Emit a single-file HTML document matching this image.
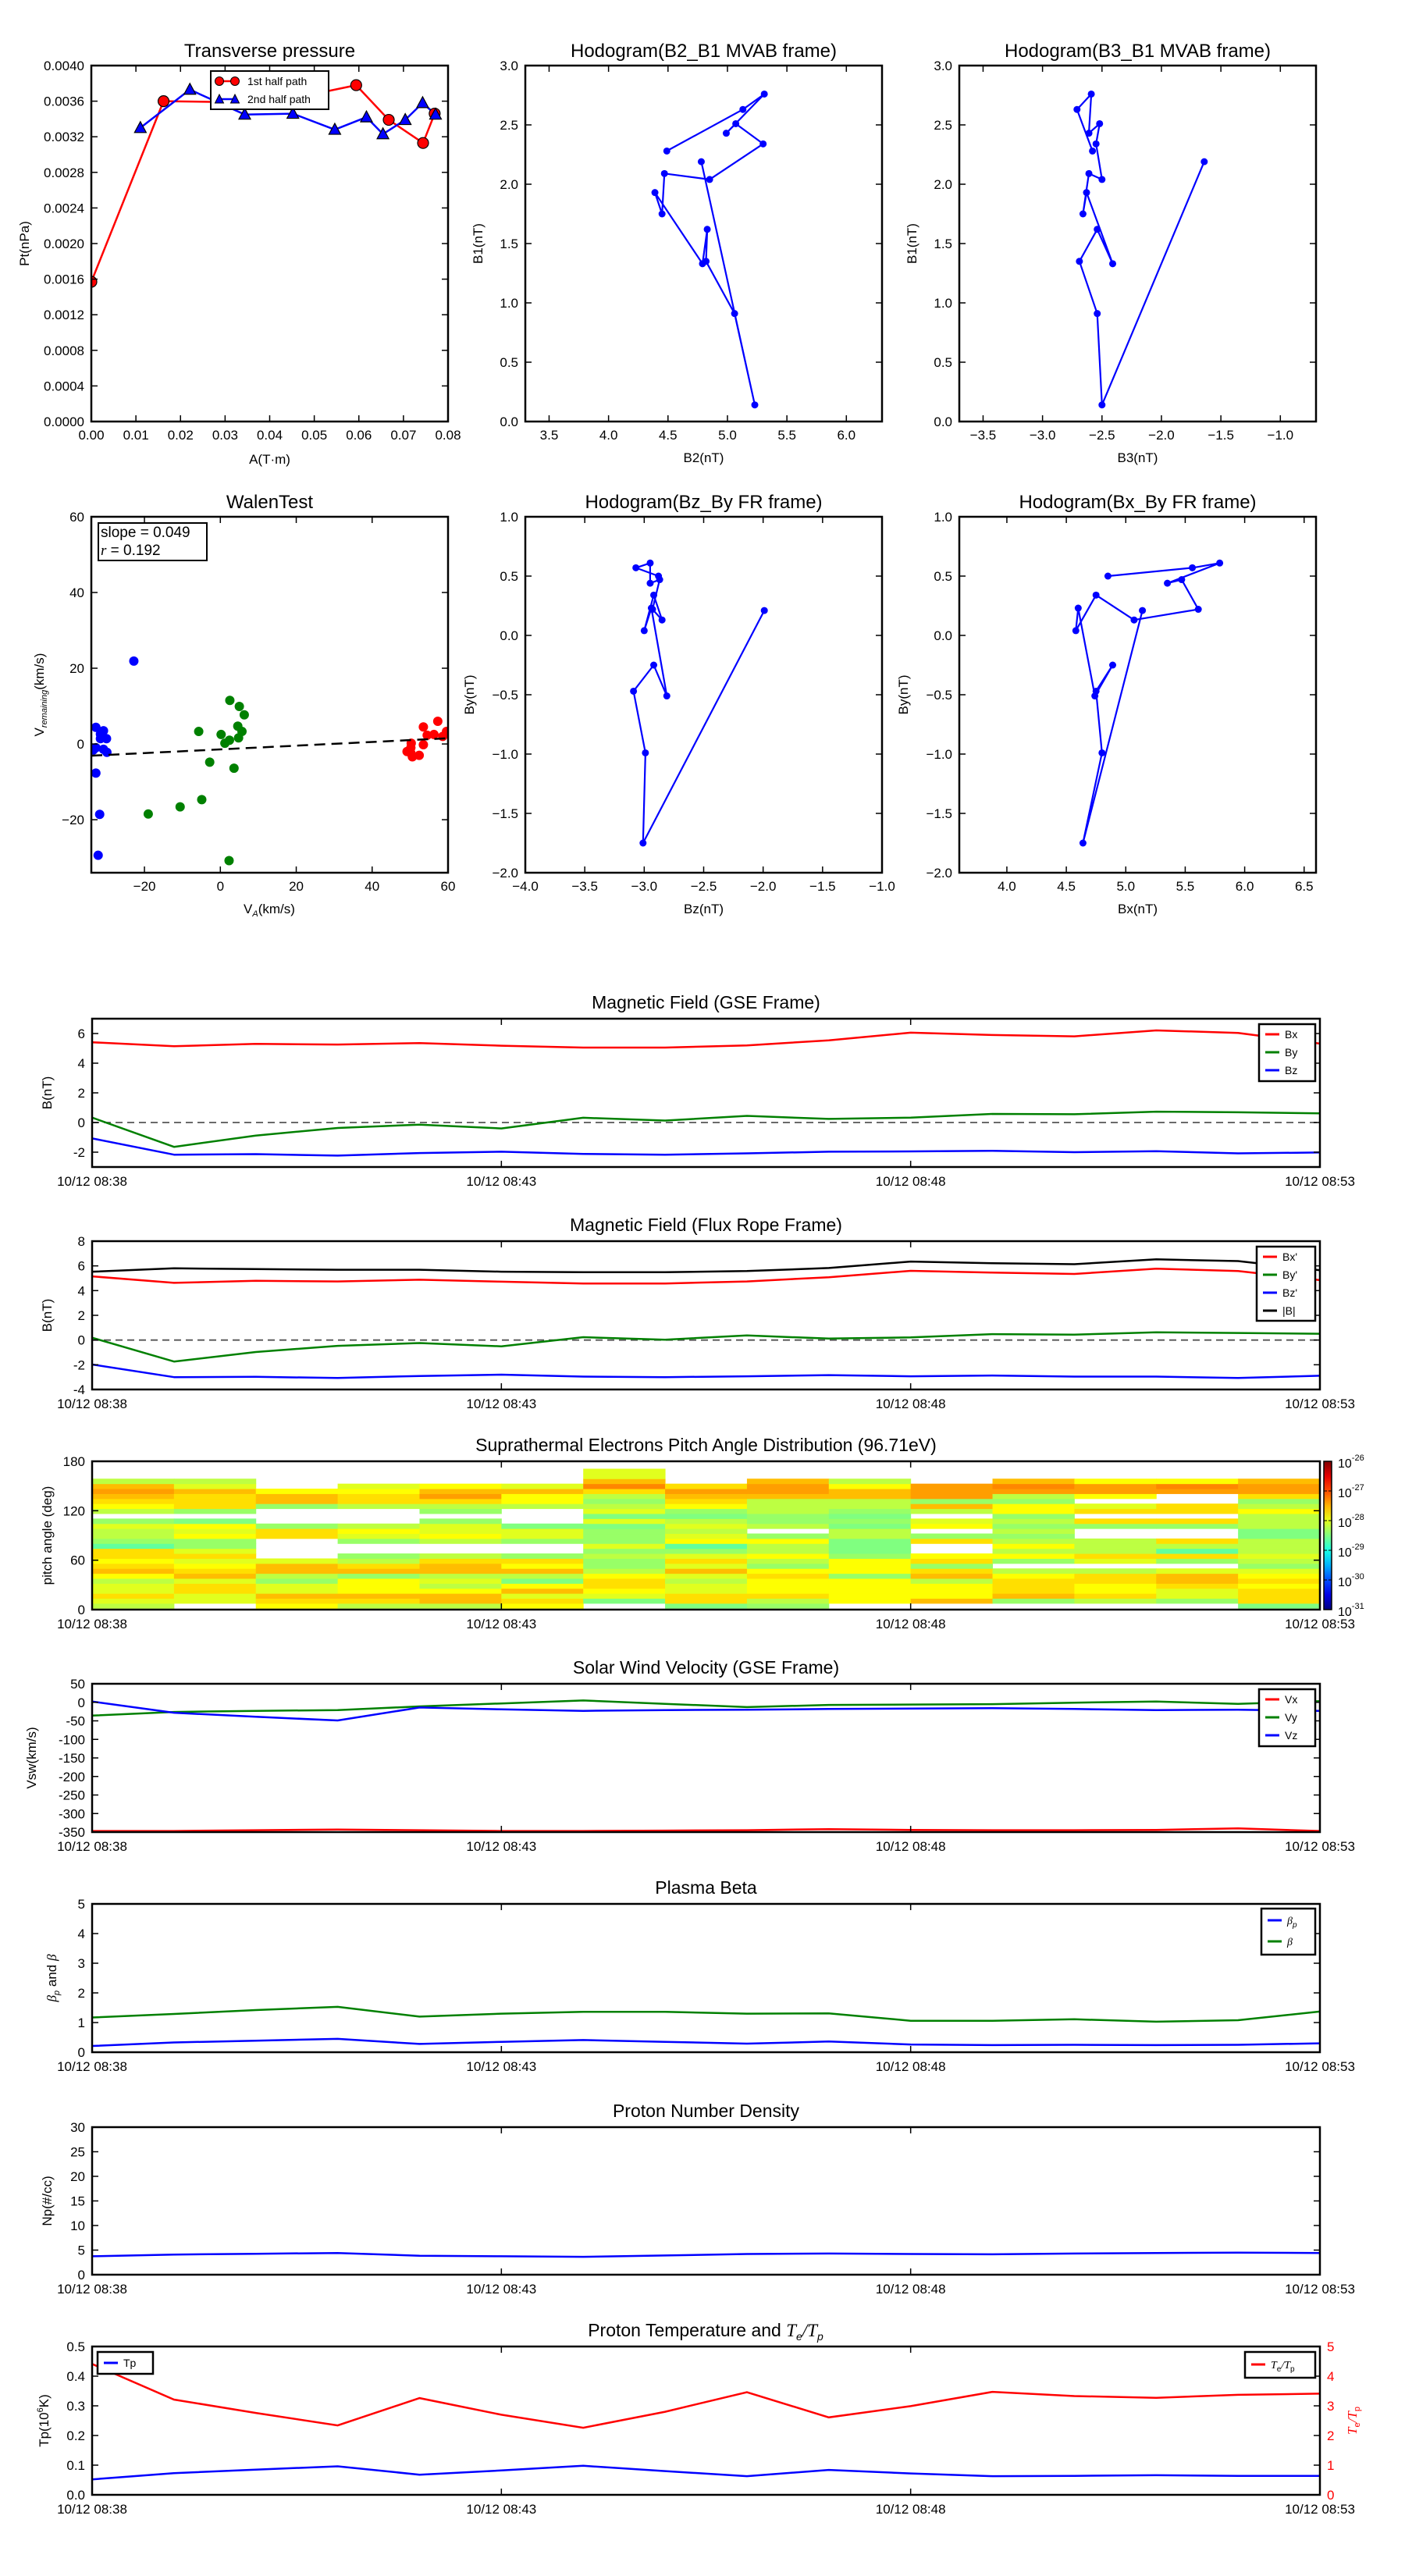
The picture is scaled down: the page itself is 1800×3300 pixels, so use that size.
<!DOCTYPE html>
<html><head><meta charset="utf-8"><title>Flux rope analysis</title>
<style>
html,body{margin:0;padding:0;background:#fff;}
svg{display:block;font-family:"Liberation Sans","DejaVu Sans",sans-serif;}
</style></head>
<body>
<svg id="figure" xmlns="http://www.w3.org/2000/svg" width="1800" height="3300" viewBox="0 0 1800 3300"><rect width="1800" height="3300" fill="#fff"/></svg>
<script>
// ---------- DATA ----------
const ptFirstA=[0.0,0.0162,0.030,0.047,0.0594,0.0667,0.0744,0.0770];
const ptFirstP=[0.00157,0.00360,0.00359,0.00365,0.00378,0.00339,0.00313,0.00346];
const ptSecondA=[0.0110,0.0221,0.0344,0.0452,0.0546,0.0617,0.0654,0.0704,0.0743,0.0772];
const ptSecondP=[0.00330,0.00373,0.00345,0.00346,0.00328,0.00342,0.00323,0.00339,0.00358,0.00345];
const mvB1=[2.28,2.63,2.76,2.43,2.51,2.34,2.04,2.09,1.75,1.93,1.33,1.62,1.35,0.91,0.14,2.19];
const mvB2=[4.49,5.13,5.31,4.99,5.07,5.30,4.85,4.47,4.45,4.39,4.79,4.83,4.82,5.06,5.23,4.78];
const mvB3=[-2.58,-2.71,-2.59,-2.61,-2.52,-2.55,-2.50,-2.61,-2.66,-2.63,-2.41,-2.54,-2.69,-2.54,-2.50,-1.64];
const frBy=[0.50,0.57,0.61,0.44,0.47,0.22,0.13,0.34,0.04,0.23,-0.51,-0.25,-0.47,-0.99,-1.75,0.21];
const frBz=[-2.88,-3.07,-2.95,-2.95,-2.87,-2.93,-2.85,-2.92,-3.00,-2.94,-2.81,-2.92,-3.09,-2.99,-3.01,-1.99];
const frBx=[4.85,5.56,5.79,5.35,5.47,5.61,5.07,4.75,4.58,4.60,4.74,4.89,4.75,4.80,4.64,5.14];
const walenBlueX=[-32.8,-30.8,-31.6,-30.0,-32.8,-33.5,-30.8,-29.9,-32.8,-31.8,-32.2,-22.8,-31.6];
const walenBlueY=[4.4,3.5,1.4,1.4,-1.0,-1.6,-1.4,-2.2,-7.7,-18.6,-29.4,21.9,2.6];
const walenGreenX=[2.5,5.0,6.3,-5.7,0.2,4.6,5.7,4.8,2.4,1.2,-2.8,3.6,-4.9,-10.6,-19.0,2.3];
const walenGreenY=[11.5,9.9,7.7,3.3,2.5,4.7,3.3,1.6,1.0,0.2,-4.8,-6.4,-14.7,-16.6,-18.5,-30.8];
const walenRedX=[49.2,50.2,50.3,50.6,52.4,53.5,53.5,54.5,56.3,57.3,58.6,59.6,50.2];
const walenRedY=[-2.0,-1.0,0.2,-3.4,-3.0,4.5,-0.2,2.3,2.5,6.0,2.0,3.3,-2.4];
const walenSlope=0.049;
const walenIntercept=-1.43;
const timeMinutes=[0,1,2,3,4,5,6,7,8,9,10,11,12,13,14,15];
const timeTickValues=[0,5,10,15];
const timeTickLabels=['10/12 08:38','10/12 08:43','10/12 08:48','10/12 08:53'];
const gseBx=[5.41,5.14,5.30,5.26,5.35,5.18,5.05,5.05,5.20,5.54,6.06,5.90,5.81,6.21,6.04,5.32];
const gseBy=[0.33,-1.64,-0.88,-0.37,-0.14,-0.40,0.32,0.13,0.45,0.24,0.33,0.58,0.56,0.73,0.69,0.62];
const gseBz=[-1.07,-2.17,-2.13,-2.23,-2.06,-1.97,-2.12,-2.17,-2.08,-1.97,-1.95,-1.91,-2.00,-1.93,-2.08,-2.02];
const ropeBx=[5.15,4.63,4.79,4.74,4.88,4.72,4.58,4.58,4.74,5.08,5.60,5.46,5.35,5.78,5.58,4.85];
const ropeBy=[0.19,-1.74,-0.97,-0.47,-0.24,-0.51,0.23,0.03,0.37,0.12,0.21,0.48,0.44,0.62,0.57,0.51];
const ropeBz=[-1.98,-3.00,-2.98,-3.07,-2.91,-2.80,-2.96,-3.00,-2.93,-2.84,-2.93,-2.87,-2.96,-2.96,-3.07,-2.89];
const ropeBt=[5.53,5.80,5.74,5.69,5.69,5.53,5.49,5.49,5.58,5.83,6.35,6.21,6.14,6.53,6.39,5.65];
const padColumns=[
"LYDYYLZODZDDTALLYAWLZDOROLWW","WYYDDYODZYDYAAZYZGWADDDOYLWW","ZDOYYALOOYWWWWDDAWWWAOOZWWWW",
"LDOZZZAODLAWWAYZLWWWLDDZYWWW","LOOZLYLOODLWWLZYYAWALDROZWWW","ZDYOZGLOZDAWWAYYGWWWLZZOYWWW",
"WGYZDDZLAALAYAAAGYGYLALDSOYY","GDDYYLYOYDYATZYLYLGAZDORDWWW","ALDZZZDZALZLLZAWLAALLLORROWW",
"WZZZZZAZZZAGGGLLGAGALLOOZLWW","WOZZZLODADZWWDAWZYWLOARRRWWW","WAODDDZLWAZLZLALALAZZALRSOWW",
"WLDZZDDLWYDLLLWWADWDYWZRRZWW","WAYYDOOYWADTLDWWADWDDWWRSZWW","GDDDZDZYALYLLLGGLLLZLADRROWW"];
const padCodeValues={T:-28.65,G:-28.5,A:-28.38,L:-28.2,Y:-28.02,Z:-27.88,D:-27.72,O:-27.55,R:-27.4,S:-27.28};
const padBinStart=1.6;
const padBinWidth=6.05;
const vswVx=[-347,-347,-345,-343,-345,-347,-347,-346,-345,-342,-344,-345,-345,-344,-340,-347];
const vswVy=[-36,-26,-23,-21,-11,-3,5,-4,-13,-7,-6,-5,-1,2,-4,3];
const vswVz=[2,-28,-39,-49,-14,-19,-23,-21,-20,-18,-17,-16,-18,-21,-20,-23];
const betaP=[0.21,0.33,0.39,0.45,0.28,0.35,0.41,0.35,0.29,0.36,0.26,0.24,0.25,0.24,0.25,0.30];
const betaTotal=[1.17,1.29,1.42,1.53,1.20,1.30,1.36,1.36,1.30,1.31,1.06,1.06,1.11,1.03,1.08,1.37];
const protonDensity=[3.74,4.1,4.25,4.42,3.85,3.74,3.63,3.9,4.2,4.3,4.2,4.14,4.3,4.42,4.48,4.42];
const protonTemp=[0.052,0.073,0.085,0.096,0.068,0.082,0.098,0.080,0.063,0.084,0.072,0.063,0.064,0.066,0.064,0.064];
const tempRatio=[4.41,3.21,2.76,2.34,3.26,2.70,2.26,2.80,3.46,2.61,2.99,3.47,3.33,3.27,3.37,3.41];

// ---------- HELPERS ----------
const NS='http://www.w3.org/2000/svg';
const svg=document.getElementById('figure');
let clipCount=0;
function mk(tag,attrs,parent){const e=document.createElementNS(NS,tag);for(const k in attrs)e.setAttribute(k,attrs[k]);(parent||svg).appendChild(e);return e;}
function txt(parent,x,y,s,size,anchor,extra){const t=mk('text',Object.assign({x:x,y:y,'font-size':size,'text-anchor':anchor||'middle',fill:'#000'},extra||{}),parent);t.textContent=s;return t;}
function fmtMinus(v,d){const s=v.toFixed(d);return s.replace('-','\u2212');}

function makeAxes(p){
  const g=mk('g',{});
  
  
  const sx=v=>p.x0+(v-p.xmin)/(p.xmax-p.xmin)*(p.x1-p.x0);
  const sy=v=>p.y1-(v-p.ymin)/(p.ymax-p.ymin)*(p.y1-p.y0);
  const id='clip'+(clipCount++);
  const cp=mk('clipPath',{id:id},g);
  mk('rect',{x:p.x0,y:p.y0,width:p.x1-p.x0,height:p.y1-p.y0},cp);
  const plot=mk('g',{'clip-path':'url(#'+id+')'},g);
  
  
  return {g,plot,sx,sy,p};
}
function drawFrame(A,o){
  const p=A.p,g=A.g;
  const fs=o.tickSize||17;
  (o.xticks||[]).forEach((v,i)=>{
    const x=A.sx(v);
    const t1=mk('line',{x1:x,y1:p.y1,x2:x,y2:p.y1-8,stroke:'#000','stroke-width':1.5},g);
    
    
    mk('line',{x1:x,y1:p.y0,x2:x,y2:p.y0+8,stroke:'#000','stroke-width':1.5},g);
    const lb=txt(g,x,p.y1+(o.xlabOff||23),o.xlabels[i],fs,'middle');
    
    
  });
  (o.yticks||[]).forEach((v,i)=>{
    const y=A.sy(v);
    const t1=mk('line',{x1:p.x0,y1:y,x2:p.x0+8,y2:y,stroke:'#000','stroke-width':1.5},g);
    
    
    if(!o.noRightTicks) mk('line',{x1:p.x1,y1:y,x2:p.x1-8,y2:y,stroke:'#000','stroke-width':1.5},g);
    const lb=txt(g,p.x0-9,y+6,o.ylabels[i],fs,'end');
    
    
  });
  const r=mk('rect',{x:p.x0,y:p.y0,width:p.x1-p.x0,height:p.y1-p.y0,fill:'none',stroke:'#000','stroke-width':2.5},g);
  
  
  if(o.title){
    const t=txt(g,(p.x0+p.x1)/2,p.y0-(o.titleOff||11),o.title,o.titleSize||24,'middle');
    
    
  }
  if(o.xlabel){
    const t=txt(g,(p.x0+p.x1)/2,p.y1+(o.xlabelOff||54),o.xlabel,17,'middle');
    
    
  }
  if(o.ylabel){
    const yc=(p.y0+p.y1)/2;
    const t=txt(g,o.ylabelX,yc,o.ylabel,17,'middle',{transform:'rotate(-90 '+o.ylabelX+' '+yc+')'});
    
    
  }
}
function polyline(A,xs,ys,color,w,name){
  const pts=xs.map((x,i)=>A.sx(x).toFixed(1)+','+A.sy(ys[i]).toFixed(1)).join(' ');
  const l=mk('polyline',{points:pts,fill:'none',stroke:color,'stroke-width':w||2.5,'stroke-linejoin':'round'},A.plot);
  
  
  return l;
}
function dots(A,xs,ys,color,r,name,stroke){
  xs.forEach((x,i)=>{
    const c=mk('circle',{cx:A.sx(x),cy:A.sy(ys[i]),r:r,fill:color,stroke:stroke||'none','stroke-width':1.2},A.plot);
    
    
  });
}
function range(a,b,s){const r=[];for(let v=a;v<=b+1e-9;v+=s)r.push(+v.toFixed(6));return r;}
function legendBox(g,x,y,w,h,entries,fs,name){
  const lg=mk('g',{},g);
  
  
  mk('rect',{x:x,y:y,width:w,height:h,fill:'#fff',stroke:'#000','stroke-width':2.5},lg);
  entries.forEach(e=>{
    const it=mk('g',{},lg);
    
    
    mk('line',{x1:x+8,y1:e.y,x2:x+26,y2:e.y,stroke:e.color,'stroke-width':3},it);
    const t=txt(it,x+33,e.y+5,e.label,fs,'start',e.attrs||{});
    if(e.html)t.innerHTML=e.html;
  });
  return lg;
}

// ---------- TRANSVERSE PRESSURE ----------
(function(){
  const A=makeAxes({name:'transverse-pressure-chart',x0:117,x1:574,y0:84,y1:540,xmin:0,xmax:0.08,ymin:0,ymax:0.004});
  polyline(A,ptFirstA,ptFirstP,'#ff0000',2.5,'first-half-path-line');
  polyline(A,ptSecondA,ptSecondP,'#0000ff',2.5,'second-half-path-line');
  ptFirstA.forEach((a,i)=>{
    if(i===2||i===3)return;
    const c=mk('circle',{cx:A.sx(a),cy:A.sy(ptFirstP[i]),r:7,fill:'#ff0000',stroke:'#000','stroke-width':1.2},A.plot);
    
    
  });
  ptSecondA.forEach((a,i)=>{
    const x=A.sx(a),y=A.sy(ptSecondP[i]);
    const t=mk('polygon',{points:(x)+','+(y-8)+' '+(x-7.5)+','+(y+6)+' '+(x+7.5)+','+(y+6),fill:'#0000ff',stroke:'#000','stroke-width':1.2},A.plot);
    
    
  });
  const xt=range(0,0.08,0.01), yt=range(0,0.004,0.0004);
  drawFrame(A,{xticks:xt,xlabels:xt.map(v=>v.toFixed(2)),yticks:yt,ylabels:yt.map(v=>v.toFixed(4)),title:'Transverse pressure',xlabel:'A(T\u00b7m)',xlabelOff:54,ylabel:'Pt(nPa)',ylabelX:37});
  const lg=mk('g',{},A.g);
  
  
  mk('rect',{x:270,y:91,width:151,height:49,fill:'#fff',stroke:'#000','stroke-width':2},lg);
  const e1=mk('g',{},lg);
  
  
  mk('line',{x1:281,y1:104,x2:301,y2:104,stroke:'#ff0000','stroke-width':2.5},e1);
  mk('circle',{cx:281,cy:104,r:5.5,fill:'#ff0000',stroke:'#000','stroke-width':1},e1);
  mk('circle',{cx:301,cy:104,r:5.5,fill:'#ff0000',stroke:'#000','stroke-width':1},e1);
  txt(e1,317,109,'1st half path',14,'start');
  const e2=mk('g',{},lg);
  
  
  mk('line',{x1:281,y1:127,x2:301,y2:127,stroke:'#0000ff','stroke-width':2.5},e2);
  mk('polygon',{points:'281,121 275.5,132 286.5,132',fill:'#0000ff',stroke:'#000','stroke-width':1},e2);
  mk('polygon',{points:'301,121 295.5,132 306.5,132',fill:'#0000ff',stroke:'#000','stroke-width':1},e2);
  txt(e2,317,132,'2nd half path',14,'start');
})();

// ---------- HODOGRAMS ----------
function hodogram(name,x0,y0,xmin,xmax,ymin,ymax,xs,ys,xt,yt,title,xl,yl,d){
  const A=makeAxes({name:name,x0:x0,x1:x0+457,y0:y0,y1:y0+456,xmin:xmin,xmax:xmax,ymin:ymin,ymax:ymax});
  polyline(A,xs,ys,'#0000ff',2.2,'hodogram-path');
  dots(A,xs,ys,'#0000ff',4.5,'hodogram-point');
  drawFrame(A,{xticks:xt,xlabels:xt.map(v=>fmtMinus(v,1)),yticks:yt,ylabels:yt.map(v=>fmtMinus(v,1)),title:title,xlabel:xl,xlabelOff:52,ylabel:yl,ylabelX:x0-d});
}
hodogram('hodogram-b2-b1',673,84,3.3,6.3,0,3,mvB2,mvB1,range(3.5,6.0,0.5),range(0,3,0.5),'Hodogram(B2_B1 MVAB frame)','B2(nT)','B1(nT)',55);
hodogram('hodogram-b3-b1',1229,84,-3.7,-0.7,0,3,mvB3,mvB1,range(-3.5,-1.0,0.5),range(0,3,0.5),'Hodogram(B3_B1 MVAB frame)','B3(nT)','B1(nT)',55);
hodogram('hodogram-bz-by',673,662,-4,-1,-2,1,frBz,frBy,range(-4,-1,0.5),range(-2,1,0.5),'Hodogram(Bz_By FR frame)','Bz(nT)','By(nT)',66);
hodogram('hodogram-bx-by',1229,662,3.6,6.6,-2,1,frBx,frBy,range(4.0,6.5,0.5),range(-2,1,0.5),'Hodogram(Bx_By FR frame)','Bx(nT)','By(nT)',66);

// ---------- WALEN TEST ----------
(function(){
  const A=makeAxes({name:'walen-test-chart',x0:117,x1:574,y0:662,y1:1118,xmin:-34,xmax:60,ymin:-34,ymax:60});
  dots(A,walenBlueX,walenBlueY,'#0000ff',6,'walen-point-blue');
  dots(A,walenGreenX,walenGreenY,'#008000',6,'walen-point-green');
  dots(A,walenRedX,walenRedY,'#ff0000',6,'walen-point-red');
  const fl=mk('line',{x1:A.sx(-34),y1:A.sy(walenIntercept+walenSlope*-34),x2:A.sx(60),y2:A.sy(walenIntercept+walenSlope*60),stroke:'#000','stroke-width':2.5,'stroke-dasharray':'14,8'},A.plot);
  
  
  const t=range(-20,60,20);
  drawFrame(A,{xticks:t,xlabels:t.map(v=>fmtMinus(v,0)),yticks:t,ylabels:t.map(v=>fmtMinus(v,0)),title:'WalenTest',xlabel:'',ylabel:''});
  const xl=txt(A.g,345,1170,'',17,'middle');
  xl.innerHTML='V<tspan font-size="11" font-style="italic" dy="4">A</tspan><tspan dy="-4">(km/s)</tspan>';
  
  
  const yl=txt(A.g,56,890,'',17,'middle',{transform:'rotate(-90 56 890)'});
  yl.innerHTML='V<tspan font-size="11" font-style="italic" dy="4">remaining</tspan><tspan dy="-4">(km/s)</tspan>';
  
  
  const box=mk('g',{},A.g);
  
  
  mk('rect',{x:126,y:670,width:139,height:48,fill:'#fff',stroke:'#000','stroke-width':2},box);
  txt(box,129,688,'slope = 0.049',19,'start');
  const r=txt(box,129,711,'',19,'start');
  r.innerHTML='<tspan font-style="italic" font-family="Liberation Serif, serif">r</tspan> = 0.192';
})();

// ---------- TIME PANELS ----------
const TX0=118,TX1=1691;
function timePanel(name,y0,y1,ymin,ymax,yt,ylabs,title,ylabel){
  const A=makeAxes({name:name,x0:TX0,x1:TX1,y0:y0,y1:y1,xmin:0,xmax:15,ymin:ymin,ymax:ymax});
  A.frameOpts={xticks:timeTickValues,xlabels:timeTickLabels,yticks:yt,ylabels:ylabs,title:title,titleSize:23,titleOff:13,xlabOff:24,ylabel:ylabel,ylabelX:66,tickSize:17};
  return A;
}
function zeroLine(A){
  const l=mk('line',{x1:TX0,y1:A.sy(0),x2:TX1,y2:A.sy(0),stroke:'#555','stroke-width':1.8,'stroke-dasharray':'9,6'},A.plot);
  
  
}

// GSE magnetic field
(function(){
  const yt=[-2,0,2,4,6];
  const A=timePanel('magnetic-field-gse-chart',1305,1495,-3,7,yt,yt.map(String),'Magnetic Field (GSE Frame)','B(nT)');
  zeroLine(A);
  polyline(A,timeMinutes,gseBx,'#ff0000',2.5,'bx-line');
  polyline(A,timeMinutes,gseBy,'#008000',2.5,'by-line');
  polyline(A,timeMinutes,gseBz,'#0000ff',2.5,'bz-line');
  drawFrame(A,A.frameOpts);
  legendBox(A.g,1613,1312,72,73,[{y:1325,color:'#ff0000',label:'Bx'},{y:1348,color:'#008000',label:'By'},{y:1371,color:'#0000ff',label:'Bz'}],14,'gse-legend');
})();
// Flux rope magnetic field
(function(){
  const yt=[-4,-2,0,2,4,6,8];
  const A=timePanel('magnetic-field-flux-rope-chart',1590,1780,-4,8,yt,yt.map(String),'Magnetic Field (Flux Rope Frame)','B(nT)');
  zeroLine(A);
  polyline(A,timeMinutes,ropeBx,'#ff0000',2.5,'bx-prime-line');
  polyline(A,timeMinutes,ropeBy,'#008000',2.5,'by-prime-line');
  polyline(A,timeMinutes,ropeBz,'#0000ff',2.5,'bz-prime-line');
  polyline(A,timeMinutes,ropeBt,'#000000',2.5,'b-total-line');
  drawFrame(A,A.frameOpts);
  legendBox(A.g,1610,1597,75,95,[{y:1610,color:'#ff0000',label:"Bx'"},{y:1633,color:'#008000',label:"By'"},{y:1656,color:'#0000ff',label:"Bz'"},{y:1679,color:'#000',label:'|B|'}],14,'flux-rope-legend');
})();
// Pitch angle distribution
function jet(t){
  t=Math.max(0,Math.min(1,t));
  const c=v=>Math.round(255*Math.max(0,Math.min(1,v)));
  return 'rgb('+c(1.5-Math.abs(4*t-3))+','+c(1.5-Math.abs(4*t-2))+','+c(1.5-Math.abs(4*t-1))+')';
}
(function(){
  const yt=[0,60,120,180];
  const A=timePanel('pitch-angle-heatmap',1872,2062,0,180,yt,yt.map(String),'Suprathermal Electrons Pitch Angle Distribution (96.71eV)','pitch angle (deg)');
  padColumns.forEach((col,i)=>{
    for(let k=0;k<col.length;k++){
      const ch=col[k];
      if(!(ch in padCodeValues))continue;
      const v=padCodeValues[ch];
      const lo=padBinStart+k*padBinWidth, hi=lo+padBinWidth;
      const r=mk('rect',{x:A.sx(i),y:A.sy(hi),width:A.sx(i+1)-A.sx(i)+0.5,height:A.sy(lo)-A.sy(hi)+0.5,fill:jet((v+31)/5)},A.plot);
      
      
    }
  });
  drawFrame(A,A.frameOpts);
  const cb=mk('g',{});
  
  
  const defs=mk('defs',{},cb);
  const gr=mk('linearGradient',{id:'jetgrad',x1:0,y1:1,x2:0,y2:0},defs);
  for(let s=0;s<=10;s++)mk('stop',{offset:(s/10),'stop-color':jet(s/10)},gr);
  mk('rect',{x:1696,y:1872,width:10,height:190,fill:'url(#jetgrad)',stroke:'#000','stroke-width':1.5},cb);
  [-26,-27,-28,-29,-30,-31].forEach(e=>{
    const y=1872+(-26-e)*38;
    mk('line',{x1:1696,y1:y,x2:1700,y2:y,stroke:'#000','stroke-width':1},cb);
    mk('line',{x1:1702,y1:y,x2:1706,y2:y,stroke:'#000','stroke-width':1},cb);
    const t=txt(cb,1714,y+8,'',16,'start');
    t.innerHTML='10<tspan font-size="11" dy="-9">'+e+'</tspan>';
    
    
  });
})();
// Solar wind velocity
(function(){
  const yt=range(-350,50,50);
  const A=timePanel('solar-wind-velocity-chart',2157,2347,-350,50,yt,yt.map(v=>String(v)),'Solar Wind Velocity (GSE Frame)','Vsw(km/s)');
  A.frameOpts.ylabelX=46;
  polyline(A,timeMinutes,vswVx,'#ff0000',2.5,'vx-line');
  polyline(A,timeMinutes,vswVy,'#008000',2.5,'vy-line');
  polyline(A,timeMinutes,vswVz,'#0000ff',2.5,'vz-line');
  drawFrame(A,A.frameOpts);
  legendBox(A.g,1613,2164,72,73,[{y:2177,color:'#ff0000',label:'Vx'},{y:2200,color:'#008000',label:'Vy'},{y:2223,color:'#0000ff',label:'Vz'}],14,'velocity-legend');
})();
// Plasma beta
(function(){
  const yt=range(0,5,1);
  const A=timePanel('plasma-beta-chart',2439,2629,0,5,yt,yt.map(String),'Plasma Beta','');
  polyline(A,timeMinutes,betaP,'#0000ff',2.5,'beta-proton-line');
  polyline(A,timeMinutes,betaTotal,'#008000',2.5,'beta-total-line');
  drawFrame(A,A.frameOpts);
  const yl=txt(A.g,72,2534,'',17,'middle',{transform:'rotate(-90 72 2534)'});
  yl.innerHTML='<tspan font-style="italic" font-family="Liberation Serif, serif">\u03b2</tspan><tspan font-size="11" font-style="italic" dy="4">p</tspan><tspan dy="-4"> and </tspan><tspan font-style="italic" font-family="Liberation Serif, serif">\u03b2</tspan>';
  
  
  const lg=legendBox(A.g,1616,2445,69,59,[{y:2460,color:'#0000ff',label:''},{y:2487,color:'#008000',label:''}],14,'beta-legend');
  const ts=lg.querySelectorAll('text');
  ts[0].innerHTML='<tspan font-style="italic" font-family="Liberation Serif, serif">\u03b2</tspan><tspan font-size="10" font-style="italic" dy="4">p</tspan>';
  ts[1].innerHTML='<tspan font-style="italic" font-family="Liberation Serif, serif">\u03b2</tspan>';
})();
// Proton density
(function(){
  const yt=range(0,30,5);
  const A=timePanel('proton-density-chart',2725,2914,0,30,yt,yt.map(String),'Proton Number Density','Np(#/cc)');
  polyline(A,timeMinutes,protonDensity,'#0000ff',2.5,'proton-density-line');
  drawFrame(A,A.frameOpts);
})();
// Proton temperature
(function(){
  const yt=range(0,0.5,0.1);
  const A=timePanel('proton-temperature-chart',3006,3196,0,0.5,yt,yt.map(v=>v.toFixed(1)),'','');
  A.frameOpts.noRightTicks=true;
  const sy2=v=>3196-v/5*190;
  polyline(A,timeMinutes,protonTemp,'#0000ff',2.5,'proton-temperature-line');
  const pts=timeMinutes.map((m,i)=>A.sx(m).toFixed(1)+','+sy2(tempRatio[i]).toFixed(1)).join(' ');
  const rl=mk('polyline',{points:pts,fill:'none',stroke:'#ff0000','stroke-width':2.5},A.plot);
  
  
  drawFrame(A,A.frameOpts);
  [0,1,2,3,4,5].forEach(v=>{
    const y=sy2(v);
    mk('line',{x1:TX1,y1:y,x2:TX1-8,y2:y,stroke:'#000','stroke-width':1.5},A.g);
    const t=txt(A.g,TX1+9,y+6,String(v),17,'start',{fill:'#ff0000'});
    
    
  });
  const title=txt(A.g,904,2993,'',23,'middle');
  title.innerHTML='Proton Temperature and <tspan font-style="italic" font-family="Liberation Serif, serif">T</tspan><tspan font-size="14" font-style="italic" dy="5">e</tspan><tspan dy="-5" font-family="Liberation Serif, serif" font-style="italic">/T</tspan><tspan font-size="14" font-style="italic" dy="5">p</tspan>';
  
  
  const yl=txt(A.g,62,3101,'',17,'middle',{transform:'rotate(-90 62 3101)'});
  yl.innerHTML='Tp(10<tspan font-size="11" dy="-7">6</tspan><tspan dy="7">K)</tspan>';
  
  
  const yr=txt(A.g,1738,3101,'',17,'middle',{transform:'rotate(-90 1738 3101)',fill:'#ff0000'});
  yr.innerHTML='<tspan font-style="italic" font-family="Liberation Serif, serif">T</tspan><tspan font-size="11" dy="4">e</tspan><tspan dy="-4" font-style="italic" font-family="Liberation Serif, serif">/T</tspan><tspan font-size="11" dy="4">p</tspan>';
  
  
  legendBox(A.g,125,3013,71,28,[{y:3027,color:'#0000ff',label:'Tp'}],14,'tp-legend');
  const lg=legendBox(A.g,1595,3013,90,33,[{y:3029,color:'#ff0000',label:''}],14,'ratio-legend');
  lg.querySelector('text').innerHTML='<tspan font-style="italic" font-family="Liberation Serif, serif">T</tspan><tspan font-size="10" dy="4">e</tspan><tspan dy="-4" font-style="italic" font-family="Liberation Serif, serif">/T</tspan><tspan font-size="10" dy="4">p</tspan>';
})();
</script>
</body></html>
